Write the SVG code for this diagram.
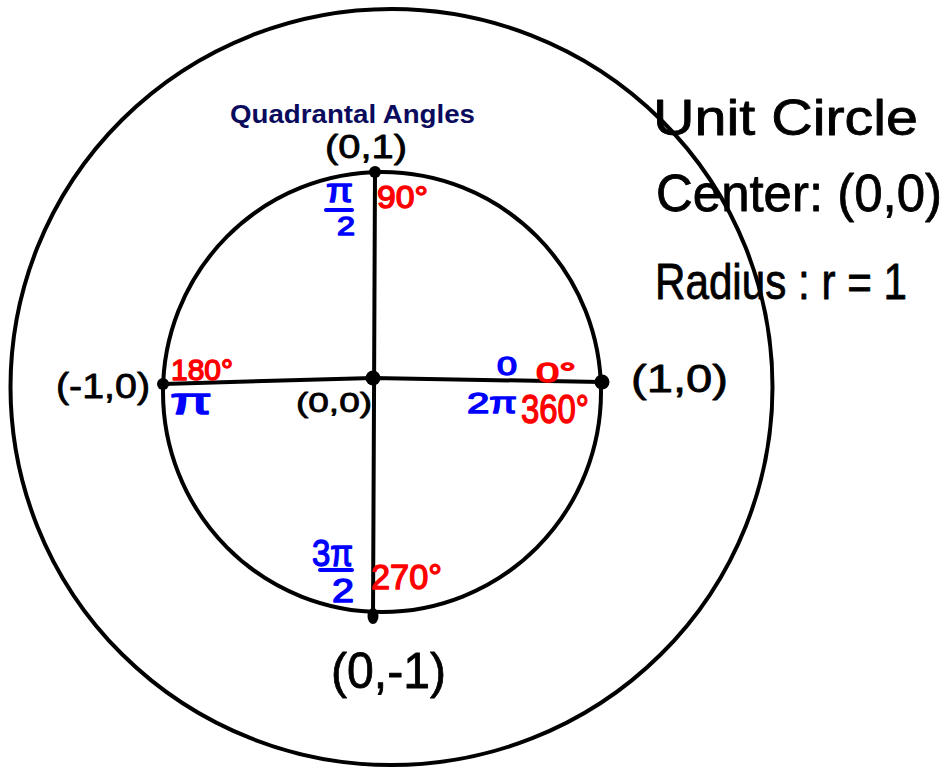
<svg xmlns="http://www.w3.org/2000/svg" width="949" height="767" viewBox="0 0 949 767">
  <style>
    .ln { fill: none; stroke: #000; stroke-width: 4; stroke-linecap: round; stroke-linejoin: round; }
    .dot { fill: #000; }
    .hw { font-family: "Liberation Sans", "DejaVu Sans", sans-serif; stroke-linejoin: round; }
    .blk { fill: #000; stroke: #000; stroke-width: 0.8; }
    .red { fill: #ff0000; stroke: #ff0000; stroke-width: 1.4; }
    .blu { fill: #0000ff; stroke: #0000ff; stroke-width: 1.4; }
    .bar { stroke: #0000ff; stroke-width: 4; stroke-linecap: round; }
    .title { font-family: "Liberation Sans", Arial, sans-serif; font-weight: bold; fill: #0b0b5e; }
  </style>
  <rect width="949" height="767" fill="#fff"/>

  <g id="outer-circle">
    <ellipse class="ln" cx="391.5" cy="387" rx="381" ry="378"/>
  </g>
  <g id="unit-circle">
    <ellipse class="ln" cx="382" cy="392" rx="219" ry="220"/>
  </g>

  <g id="connectors">
    <path class="ln" d="M375,172 L374,400 L373,617"/>
    <path class="ln" d="M163,384 L300,380 L373,378 L601,382"/>
  </g>

  <g id="point-top">
    <circle class="dot" cx="375" cy="172" r="6"/>
    <text class="hw blk" x="325" y="158" font-size="33" textLength="82" lengthAdjust="spacingAndGlyphs">(0,1)</text>
  </g>
  <g id="point-left">
    <circle class="dot" cx="163" cy="384" r="6"/>
    <text class="hw blk" x="56" y="398" font-size="35" textLength="94" lengthAdjust="spacingAndGlyphs">(-1,0)</text>
  </g>
  <g id="point-center">
    <circle class="dot" cx="373" cy="378" r="7.5"/>
    <text class="hw blk" x="296" y="412" font-size="28" textLength="76" lengthAdjust="spacingAndGlyphs">(0,0)</text>
  </g>
  <g id="point-right">
    <circle class="dot" cx="602" cy="382" r="7.5"/>
    <text class="hw blk" x="631" y="392" font-size="39" textLength="97" lengthAdjust="spacingAndGlyphs">(1,0)</text>
  </g>
  <g id="point-bottom">
    <ellipse class="dot" cx="373" cy="616" rx="5.5" ry="8"/>
    <text class="hw blk" x="331" y="688" font-size="50" textLength="115" lengthAdjust="spacingAndGlyphs">(0,-1)</text>
  </g>

  <g id="title">
    <text class="title" x="230" y="123" font-size="25" textLength="245" lengthAdjust="spacingAndGlyphs">Quadrantal Angles</text>
  </g>

  <g id="notes">
    <text class="hw blk" x="653" y="135" font-size="50" textLength="265" lengthAdjust="spacingAndGlyphs">Unit Circle</text>
    <text class="hw blk" x="656" y="211" font-size="52" textLength="286" lengthAdjust="spacingAndGlyphs">Center: (0,0)</text>
    <text class="hw blk" x="655" y="299" font-size="50" textLength="252" lengthAdjust="spacingAndGlyphs">Radius : r = 1</text>
  </g>

  <g id="angle-90">
    <text class="hw red" x="377" y="208" font-size="31" textLength="51" lengthAdjust="spacingAndGlyphs">90°</text>
    <text class="hw blu" x="326" y="202" font-size="34" textLength="27" lengthAdjust="spacingAndGlyphs">π</text>
    <line class="bar" x1="326" y1="210" x2="352" y2="210"/>
    <text class="hw blu" x="337" y="235" font-size="26" textLength="18" lengthAdjust="spacingAndGlyphs">2</text>
  </g>
  <g id="angle-180">
    <text class="hw red" x="171" y="380" font-size="29" textLength="62" lengthAdjust="spacingAndGlyphs">180°</text>
    <text class="hw blu" x="170" y="414" font-size="36" textLength="42" lengthAdjust="spacingAndGlyphs">π</text>
  </g>
  <g id="angle-0">
    <text class="hw blu" x="497" y="375" font-size="26" textLength="20" lengthAdjust="spacingAndGlyphs">0</text>
    <text class="hw red" x="536" y="382" font-size="28" textLength="40" lengthAdjust="spacingAndGlyphs">0°</text>
    <text class="hw blu" x="467" y="413" font-size="30" textLength="50" lengthAdjust="spacingAndGlyphs">2π</text>
    <text class="hw red" x="521" y="423" font-size="41" textLength="68" lengthAdjust="spacingAndGlyphs">360°</text>
  </g>
  <g id="angle-270">
    <text class="hw red" x="371" y="589" font-size="35" textLength="71" lengthAdjust="spacingAndGlyphs">270°</text>
    <text class="hw blu" x="312" y="566" font-size="37" textLength="41" lengthAdjust="spacingAndGlyphs">3π</text>
    <line class="bar" x1="320" y1="570" x2="352" y2="570"/>
    <text class="hw blu" x="332" y="602" font-size="33" textLength="22" lengthAdjust="spacingAndGlyphs">2</text>
  </g>
</svg>
